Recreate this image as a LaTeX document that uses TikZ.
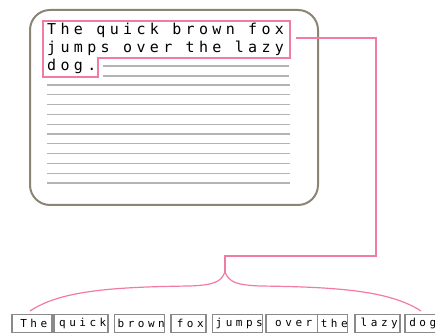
\documentclass[tikz,border=0pt]{standalone}
\usepackage{fontspec}
\usepackage{tikz}
\usetikzlibrary{positioning}
\newfontfamily\pixfont{DejaVu Sans Mono}[LetterSpace=29]
\newfontfamily\pixsmall{DejaVu Sans Mono}[LetterSpace=32]
\definecolor{colMarco}{HTML}{8C8474}
\definecolor{colRosa}{HTML}{F27BA6}
\definecolor{colRenglon}{HTML}{B4B4B4}
\definecolor{colCaja}{HTML}{8A8A8A}

\begin{document}
\begin{tikzpicture}[
  x=1pt, y=-1pt,
  marco/.style={draw=colMarco, line width=2pt, rounded corners=20pt},
  renglon/.style={draw=colRenglon, line width=1.3pt},
  resalte/.style={draw=colRosa, line width=1.3pt},
  linea/.style={draw=colRosa, line width=1.2pt},
  texto/.style={font=\pixfont\fontsize{15}{15}\selectfont, inner sep=0pt, anchor=base west},
  palabra/.style={draw=colCaja, line width=1.1pt, fill=white, inner sep=0pt,
    minimum height=18pt, font=\pixsmall\fontsize{11}{11}\selectfont}
]
  \useasboundingbox (0,0) rectangle (435,336);

  % Hoja con el texto
  \draw[marco] (30,10) rectangle (318,205);
  \node[texto] (lin1) at (47,35) {The quick brown fox};
  \node[texto] (lin2) at (47,53) {jumps over the lazy};
  \node[texto] (lin3) at (47,71) {dog.};

  % Renglones vacios
  \draw[renglon] (103,66) -- (289,66);
  \draw[renglon] (103,76) -- (289,76);
  \foreach \k in {0,...,10}
    \draw[renglon] (47,85+9.8*\k) -- (290,85+9.8*\k);

  % Frase resaltada
  \draw[resalte] (43,21) -- (290,21) -- (290,58) -- (98,58) -- (98,77) -- (43,77) -- cycle;

  % Palabras
  \foreach \w/\xa/\xb [count=\i] in {The/12/52, quick/54/108, brown/115/164,
      fox/171/206, jumps/213/262, over/266/318, the/318/347, lazy/355/400, dog/405/437}
    \node[palabra, minimum width=\xb-\xa] (word\i) at ({(\xa+\xb)/2},323.5) {\hspace{3.5pt}\w};

  % Conector y llave
  \coordinate (hl) at (296,38);
  \coordinate (codo) at (376,256);
  \coordinate (tip) at (225,272);
  \draw[linea] (hl) -| (codo) -| (tip);
  \draw[linea] (tip) .. controls (221,282) and (214,285) .. (190,286)
    .. controls (110,287) and (60,291) .. (30,311);
  \draw[linea] (tip) .. controls (229,282) and (236,285) .. (260,286)
    .. controls (340,287) and (390,291) .. (421,311);

\end{tikzpicture}
\end{document}
